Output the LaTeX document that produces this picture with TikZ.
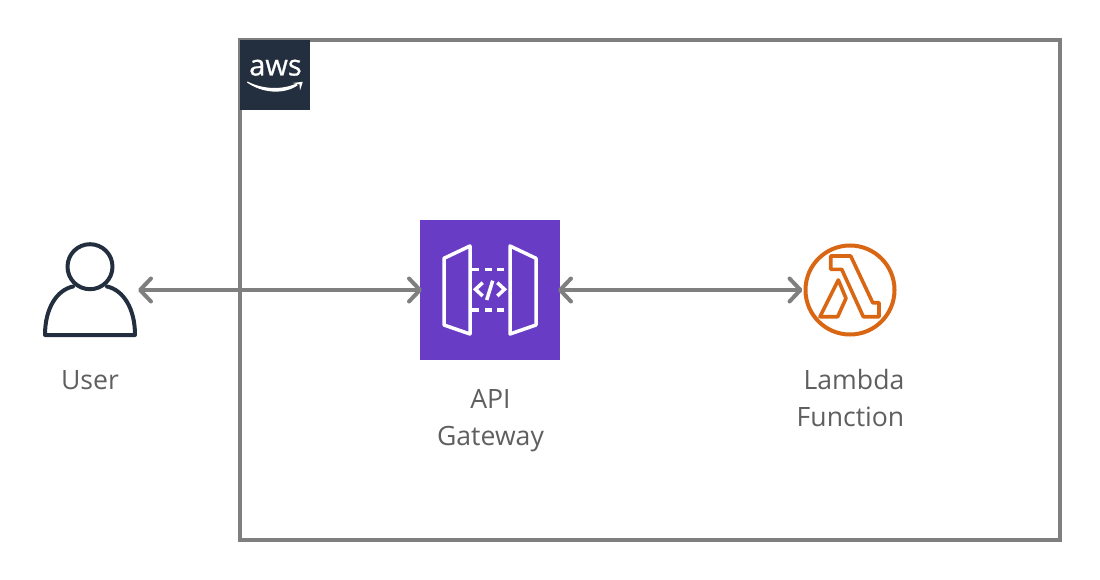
\documentclass[tikz,border=0pt]{standalone}
\usepackage{fontspec}
\usepackage{xcolor}
\setmainfont{Open Sans}
\newfontfamily\awsfont[FakeBold=0.6]{Open Sans}
\usetikzlibrary{arrows.meta, positioning}
\definecolor{linegray}{HTML}{7F7F7F}
\definecolor{textgray}{HTML}{5F5F5F}
\definecolor{awsnavy}{HTML}{232F3E}
\definecolor{apipurple}{HTML}{693CC5}
\definecolor{lambdaorange}{HTML}{D86613}

\begin{document}
\begin{tikzpicture}[
    x=1pt, y=-1pt,
    iconbox/.style={rectangle, inner sep=0pt, outer sep=0pt, minimum size=#1},
    caption/.style={align=center, inner sep=0pt, font=\fontsize{26.6}{37}\selectfont, text=textgray},
    arrow/.style={{Straight Barb[length=11pt, width=23pt, round]}-{Straight Barb[length=11pt, width=23pt, round]}, line width=4pt, linegray},
    icon/.style={line width=4pt, line join=round, line cap=round}
]
\useasboundingbox (0,0) rectangle (1100,580);

% AWS Cloud
\node[rectangle, draw=linegray, line width=4pt, minimum width=820pt, minimum height=500pt, inner sep=0pt, outer sep=0pt] (cloud) at (650,290) {};
\node[iconbox=70pt, fill=awsnavy] (awslogo) at (275,75) {};
\node[anchor=base, inner sep=0pt, text=white, font=\awsfont\fontsize{29}{29}\selectfont] (awstext) at (275.5,75.5) {aws};
\fill[white] (247,82.5) .. controls (262,93) and (283,95) .. (297.5,85.5) -- (296.5,83.5) .. controls (282,90) and (263,89.5) .. (247.5,81.5) -- cycle;
\fill[white] (292.5,83) -- (302.8,81.8) -- (300,90.5) -- (299.5,84.5) -- cycle;

% Icon boxes
\node[iconbox=94pt] (user) at (90,290) {};
\node[iconbox=140pt, fill=apipurple] (api) at (490,290) {};
\node[circle, draw=lambdaorange, line width=4pt, minimum size=89pt, inner sep=0pt] (lambda) at (850,290) {};

% User
\draw[awsnavy, icon] (90,266.7) circle (22.5);
\draw[awsnavy, icon] (73,286.5) .. controls (57,290) and (45,308) .. (45,335) -- (135,335) .. controls (135,308) and (123,290) .. (107,286.5);

% API Gateway
\draw[white, icon, line width=3.5pt] (444,258.3) -- (470,246) -- (470,334) -- (444,325) -- cycle;
\draw[white, icon, line width=3.5pt] (510,246) -- (536,258.3) -- (536,325) -- (510,334) -- cycle;
\draw[white, line width=3.5pt, dash pattern=on 7pt off 5.5pt] (472,269.3) -- (510,269.3);
\draw[white, line width=3.5pt, dash pattern=on 7pt off 5.5pt] (472,310) -- (510,310);
\draw[white, line width=3.5pt, line cap=butt, line join=miter] (482.7,282.7) -- (475.5,289.3) -- (482.7,296);
\draw[white, line width=3.5pt, line cap=butt, line join=miter] (497.3,282.7) -- (504.5,289.3) -- (497.3,296);
\draw[white, line width=3.5pt] (492.7,280.7) -- (486.7,300);

% Lambda Function
\draw[lambdaorange, icon, line width=3.6pt] (830.7,256) -- (850.7,256) -- (872.7,302.7) -- (879,302.7) -- (879,316.7) -- (863.3,316.7) -- (841.7,269.3) -- (830.7,269.3) -- cycle;
\draw[lambdaorange, icon, line width=3.6pt] (838.3,280) -- (846,298.3) -- (837.7,316.7) -- (820,316.7) -- cycle;

% Labels
\node[caption] (userlabel) at (90,380) {User};
\node[caption] (apilabel) at (490.5,421) {API\\Gateway};
\node[caption] (lambdalabel) at (850.5,398.5) {\hspace*{7pt}Lambda\\Function};

% Arrows
\draw[arrow, shorten >=-2pt, shorten <=1pt] (user.east) -- (api.west);
\draw[arrow, shorten >=1pt, shorten <=-2pt] (api.east) -- (lambda.west);

\end{tikzpicture}
\end{document}
